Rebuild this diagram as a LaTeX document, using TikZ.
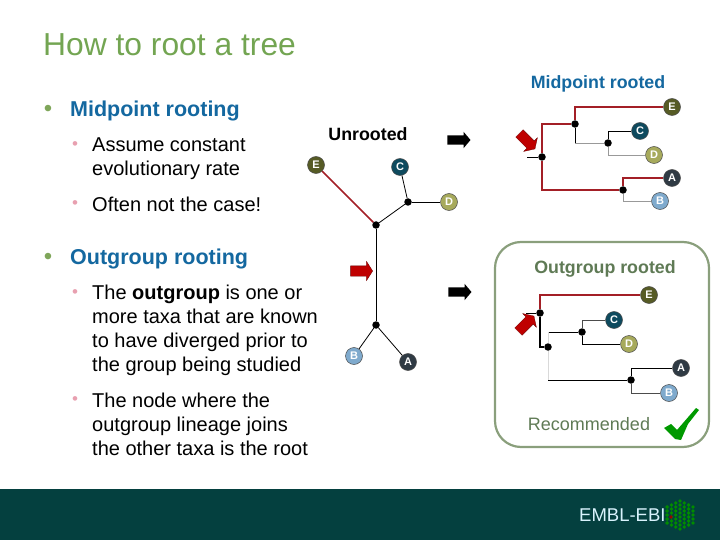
\documentclass[tikz,border=0pt]{standalone}
\usepackage{fontspec}
\setmainfont{Liberation Sans}
\usepackage{xcolor}
\usetikzlibrary{shapes.arrows, positioning, calc}
\definecolor{titlegreen}{HTML}{73A552}
\definecolor{subgreen}{HTML}{5F7A55}
\definecolor{bulletgreen}{HTML}{7FA65A}
\definecolor{bulletpink}{HTML}{E8A0B0}
\definecolor{boxgreen}{HTML}{8A9F7C}
\definecolor{footgreen}{HTML}{04403F}
\definecolor{darkred}{HTML}{A31F26}
\definecolor{bluehead}{HTML}{1468A0}
\definecolor{colE}{HTML}{565B25}
\definecolor{colC}{HTML}{0E4A5E}
\definecolor{colD}{HTML}{A7AA5C}
\definecolor{colA}{HTML}{2F3A44}
\definecolor{colB}{HTML}{7FAACD}
\tikzset{
  leaf/.style={circle, draw=black!70, line width=0.5pt, minimum size=17pt, inner sep=0pt, text=white, font=\bfseries\fontsize{11}{11}\selectfont},
  joint/.style={circle, fill=black, minimum size=7.5pt, inner sep=0pt},
  branch/.style={line width=0.8pt, black},
  pale/.style={line width=0.9pt, black!40},
  redbranch/.style={line width=1.7pt, darkred},
  blockarrow/.style={single arrow, fill=black, inner xsep=0pt, inner ysep=4.5pt, minimum height=23pt, single arrow head extend=3.5pt, single arrow tip angle=100},
  redarrow/.style={blockarrow, fill=red!75!black, draw=black!60!red, line width=0.3pt, inner ysep=5pt, single arrow head extend=4.5pt, minimum height=22pt, single arrow tip angle=115},
  bodytext/.style={anchor=north west, align=left, text=black, font=\fontsize{20}{24}\selectfont, inner sep=0pt},
  headtext/.style={anchor=west, text=bluehead, font=\bfseries\fontsize{21.5}{24}\selectfont, inner sep=0pt},
  dotone/.style={text=bulletgreen, inner sep=0pt, font=\fontsize{24}{24}\selectfont},
  dottwo/.style={text=bulletpink, inner sep=0pt, font=\fontsize{17}{17}\selectfont}
}
\begin{document}
\begin{tikzpicture}[x=1pt, y=-1pt]
\useasboundingbox (0,0) rectangle (720,540);
% Footer
\fill[footgreen] (0,489) rectangle (720,540);
\node[text=white!85!cyan, anchor=west, inner sep=0pt, font=\fontsize{18.5}{18.5}\selectfont] (ebi) at (579,515) {EMBL-EBI};
\foreach \c in {-3,...,3} {
    \pgfmathsetmacro{\n}{int(8-abs(\c))}
    \foreach \r in {1,...,\n} {
        \fill[green!55!black] ({680+\c*4.3},{515+(\r-(\n+1)/2)*4}) circle (1.9pt);
    }
}
\fill[red!60!black] (671,517) circle (1.8pt);

% Left column
\node[anchor=west, inner sep=0pt, text=titlegreen, font=\fontsize{31.8}{32}\selectfont] (title) at (43,45) {How to root a tree};
\node[dotone] (b1) at (48,111) {•};
\node[headtext] (midpoint) at (70,111) {Midpoint rooting};
\node[dottwo] (b2) at (75,146) {•};
\node[bodytext] (assume) at (92,138) {Assume constant\\evolutionary rate};
\node[dottwo] (b3) at (75,205) {•};
\node[bodytext] (often) at (92,197) {Often not the case!};
\node[dotone] (b4) at (48,259) {•};
\node[headtext] (outgroup) at (70,259) {Outgroup rooting};
\node[dottwo] (b5) at (75,294) {•};
\node[bodytext] (theout) at (92,285) {The \textbf{outgroup} is one or\\more taxa that are known\\to have diverged prior to\\the group being studied};
\node[dottwo] (b6) at (75,401) {•};
\node[bodytext] (thenode) at (92,392.5) {The node where the\\outgroup lineage joins\\the other taxa is the root};

% Unrooted
\node[anchor=center, inner sep=0pt, font=\bfseries\fontsize{17.8}{18}\selectfont] (unrooted) at (368,134) {Unrooted};
\node[blockarrow] (go1) at (457,140) {};
\node[blockarrow] (go2) at (458,292) {};
\node[redarrow] (redU) at (360,271) {};
\node[leaf, fill=colE] (uE) at (316,165) {E};
\node[leaf, fill=colC] (uC) at (400,167) {C};
\node[leaf, fill=colD] (uD) at (449,202) {D};
\node[leaf, fill=colB] (uB) at (354,356) {B};
\node[leaf, fill=colA] (uA) at (408,362) {A};
\node[joint] (u1) at (376,225) {};
\node[joint] (u2) at (408,202) {};
\node[joint] (u3) at (376,325) {};
\draw[redbranch] (uE) -- (u1);
\draw[branch] (u1) -- (u2);
\draw[branch] (u2) -- (uC);
\draw[branch] (u2) -- (uD);
\draw[branch] (u1) -- (u3);
\draw[branch] (u3) -- (uB);
\draw[branch] (u3) -- (uA);

% Midpoint rooted
\node[inner sep=0pt, text=bluehead, font=\bfseries\fontsize{17.8}{18}\selectfont] (midhead) at (598,84) {Midpoint rooted};
\node[leaf, fill=colE] (mE) at (672,107) {E};
\node[leaf, fill=colC] (mC) at (640,131) {C};
\node[leaf, fill=colD] (mD) at (654,155) {D};
\node[leaf, fill=colA] (mA) at (672,178) {A};
\node[leaf, fill=colB] (mB) at (660,201) {B};
\node[joint] (m0) at (542,157) {};
\node[joint] (m1) at (575,124) {};
\node[joint] (m2) at (608,143) {};
\node[joint] (m3) at (623,190) {};
\coordinate (mstem) at (527,157);
\coordinate (mupper) at (575,143);
\draw[branch] (mstem) -- (m0);
\draw[redbranch] (m0) |- (m1);
\draw[redbranch] (m1) |- (mE);
\draw[redbranch] (m0) |- (m3);
\draw[redbranch] (m3) |- (mA);
\draw[pale] (m3) |- (mB);
\draw[branch] (m1) -- (mupper);
\draw[pale] (mupper) -- (m2);
\draw[branch] (m2) |- (mC);
\draw[pale] (m2) |- (mD);
\node[redarrow, rotate=-45] (redM) at (526,140) {};

% Outgroup rooted
\draw[boxgreen, line width=2.2pt, rounded corners=26pt] (495,242) rectangle (709,447);
\node[inner sep=0pt, text=subgreen, font=\bfseries\fontsize{17.8}{18}\selectfont] (outhead) at (605,269) {Outgroup rooted};
\node[leaf, fill=colE] (oE) at (649,295) {E};
\node[leaf, fill=colC] (oC) at (614,320) {C};
\node[leaf, fill=colD] (oD) at (629,344) {D};
\node[leaf, fill=colA] (oA) at (681,368) {A};
\node[leaf, fill=colB] (oB) at (669,393) {B};
\node[joint] (o0) at (540,313) {};
\node[joint] (o1) at (548,347) {};
\node[joint] (o2) at (582,332) {};
\node[joint] (o3) at (631,380) {};
\coordinate (ostem) at (526,313);
\coordinate (oupper) at (548,332);
\coordinate (olower) at (548,380);
\draw[branch] (ostem) -- (o0);
\draw[redbranch] (o0) |- (oE);
\draw[branch, line width=1.1pt] (o0) |- (o1);
\draw[branch] (oupper) -- (o2);
\draw[black!15, line width=1pt] (oupper) -- (o1);
\draw[black!15, line width=1pt] (o1) -- (olower);
\draw[branch] (olower) -- (o3);
\draw[black!70, line width=0.8pt] (o2) |- (oC);
\draw[branch] (o2) |- (oD);
\draw[branch] (o3) |- (oA);
\draw[black!70, line width=0.8pt] (o3) |- (oB);
\node[redarrow, rotate=45] (redO) at (525,325) {};
\node[inner sep=0pt, text=subgreen, font=\fontsize{18}{18}\selectfont] (recommended) at (589,424) {Recommended};
\fill[green!60!black] (664,428) -- (671,424) -- (677,430) -- (696,408) -- (699,410) -- (688,424) -- (681,440) -- (675,439) -- cycle;
\end{tikzpicture}
\end{document}
